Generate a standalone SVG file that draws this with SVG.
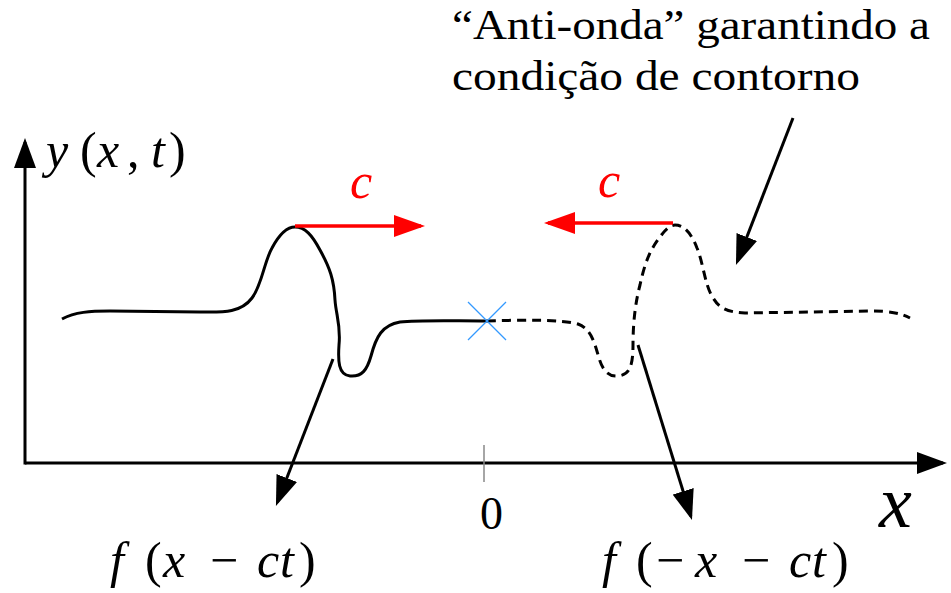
<svg xmlns="http://www.w3.org/2000/svg" width="951" height="593" viewBox="0 0 951 593">
<defs>
<marker id="ah" markerUnits="userSpaceOnUse" viewBox="0 0 30 22" markerWidth="30" markerHeight="22" refX="26" refY="11" orient="auto">
<path d="M0,0 L30,11 L0,22 Z" fill="#000"/>
</marker>
<marker id="ahr" markerUnits="userSpaceOnUse" viewBox="0 0 31 22" markerWidth="31" markerHeight="22" refX="27" refY="11" orient="auto">
<path d="M0,0 L31,11 L0,22 Z" fill="#f00"/>
</marker>
</defs>
<rect width="951" height="593" fill="#fff"/>

<g id="axes">
<line x1="25" y1="463" x2="943" y2="463" stroke="#000" stroke-width="3" marker-end="url(#ah)"/>
<line x1="25" y1="464.5" x2="25" y2="142" stroke="#000" stroke-width="3" marker-end="url(#ah)"/>
<line x1="484" y1="445" x2="484" y2="482" stroke="#888" stroke-width="1.5"/>
<text font-family="Liberation Serif" font-size="50" font-style="italic" x="46" y="167">y<tspan font-style="normal" x="80">(</tspan><tspan x="97">x</tspan><tspan font-style="normal" x="127">,</tspan><tspan x="151">t</tspan><tspan font-style="normal" x="169">)</tspan></text>
<text font-family="Liberation Serif" font-size="46" x="480" y="529">0</text>
<text font-family="Liberation Serif" font-size="74" font-style="italic" x="879" y="527">x</text>
</g>

<g id="wave">
<path fill="none" stroke="#000" stroke-width="3" d="M62,319 C75,312 90,311 110,311 L200,312 C220,312 240,314 252,298 C262,285 264,262 272,248 C280,233 288,227 295,227 C305,227 312,235 320,250 C330,268 334,280 335,300 C336,315 341,325 339,345 C338,360 338,375 350,376 C362,377 367,370 371,356 C376,337 382,325 400,322 C420,320 450,321 487,321"/>
</g>

<g id="antiwave">
<path fill="none" stroke="#000" stroke-width="3" stroke-dasharray="9 6" d="M487,321 C520,320 560,319 578,324 C592,329 595,345 599,358 C603,372 610,377 618,376 C630,375 633,365 633,345 C633,320 636,300 640,285 C645,262 650,250 660,237 C665,230 670,225 675,225 C685,225 692,235 697,248 C703,262 705,285 712,296 C718,307 725,312 745,313 L870,311 C890,311 900,313 910,318"/>
</g>

<g id="boundary">
<line x1="468" y1="302" x2="506" y2="340" stroke="#3399ff" stroke-width="1.3"/>
<line x1="468" y1="340" x2="506" y2="302" stroke="#3399ff" stroke-width="1.3"/>
</g>

<g id="velocity-right">
<line x1="295" y1="226" x2="421" y2="226" stroke="#f00" stroke-width="3.5" marker-end="url(#ahr)"/>
<text font-family="Liberation Serif" font-size="50" font-style="italic" fill="#f00" x="350" y="198">c</text>
</g>

<g id="velocity-left">
<line x1="673" y1="223" x2="548" y2="223" stroke="#f00" stroke-width="3.5" marker-end="url(#ahr)"/>
<text font-family="Liberation Serif" font-size="50" font-style="italic" fill="#f00" x="598" y="197">c</text>
</g>

<g id="label-f1">
<text font-family="Liberation Serif" font-size="50" font-style="italic" x="110" y="577">f<tspan font-style="normal" x="145">(</tspan><tspan x="163">x</tspan><tspan font-style="normal" x="210">−</tspan><tspan x="257">c</tspan><tspan x="280">t</tspan><tspan font-style="normal" x="299">)</tspan></text>
</g>

<g id="label-f2">
<text font-family="Liberation Serif" font-size="50" font-style="italic" x="602" y="577">f<tspan font-style="normal" x="636">(</tspan><tspan font-style="normal" x="656">−</tspan><tspan x="695">x</tspan><tspan font-style="normal" x="742">−</tspan><tspan x="789">c</tspan><tspan x="812">t</tspan><tspan font-style="normal" x="832">)</tspan></text>
</g>

<g id="label-anti">
<text font-family="Liberation Serif" font-size="42" x="452" y="39" textLength="478" lengthAdjust="spacingAndGlyphs">“Anti-onda” garantindo a</text>
<text font-family="Liberation Serif" font-size="42" x="452" y="90" textLength="408" lengthAdjust="spacingAndGlyphs">condição de contorno</text>
</g>

<g id="connectors">
<line x1="333" y1="359" x2="277.4" y2="502.3" stroke="#000" stroke-width="3" marker-end="url(#ah)"/>
<line x1="638" y1="345" x2="690.8" y2="516.2" stroke="#000" stroke-width="3" marker-end="url(#ah)"/>
<line x1="793" y1="118" x2="737.4" y2="261.3" stroke="#000" stroke-width="3" marker-end="url(#ah)"/>
</g>
</svg>
